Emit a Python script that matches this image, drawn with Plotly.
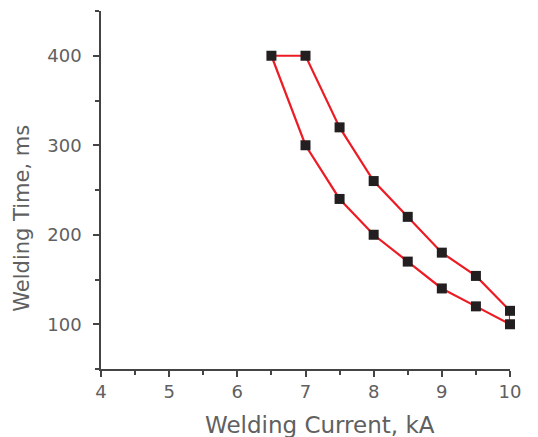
import plotly.graph_objects as go

lower_current = [6.5, 7.0, 7.5, 8.0, 8.5, 9.0, 9.5, 10.0]
lower_time = [400, 300, 240, 200, 170, 140, 120, 100]
upper_current = [7.0, 7.5, 8.0, 8.5, 9.0, 9.5, 10.0]
upper_time = [400, 320, 260, 220, 180, 154, 115]

x_title = "Welding Current, kA"
y_title = "Welding Time, ms"

# closed loop: lower curve, then upper curve back, then close
loop_x = lower_current + upper_current[::-1] + [lower_current[0]]
loop_y = lower_time + upper_time[::-1] + [lower_time[0]]

fig = go.Figure()
fig.add_trace(go.Scatter(
    x=loop_x, y=loop_y, mode="lines",
    line=dict(color="#ec1c24", width=2.2),
    hoverinfo="skip", showlegend=False, cliponaxis=False,
))
fig.add_trace(go.Scatter(
    x=lower_current + upper_current, y=lower_time + upper_time, mode="markers",
    marker=dict(symbol="square", size=10, color="#231f20"),
    showlegend=False, cliponaxis=False,
))

font_family = "'DejaVu Sans', sans-serif"
grey = "#606060"
axis_common = dict(
    showline=True, linecolor="#444444", linewidth=1.5,
    ticks="outside", ticklen=6, tickwidth=1.5, tickcolor="#444444",
    showgrid=False, zeroline=False, automargin=False,
    tickfont=dict(family=font_family, size=18, color=grey),
)
fig.update_xaxes(
    range=[4, 10], tickmode="array", tickvals=[4, 5, 6, 7, 8, 9, 10],
    minor=dict(tickvals=[4.5, 5.5, 6.5, 7.5, 8.5, 9.5], ticks="outside", ticklen=4,
               tickcolor="#444444", tickwidth=1.5),
    **axis_common,
)
fig.update_yaxes(
    range=[50, 450], tickmode="array", tickvals=[100, 200, 300, 400],
    minor=dict(tickvals=[50, 150, 250, 350, 450], ticks="outside", ticklen=4,
               tickcolor="#444444", tickwidth=1.5),
    ticklabelstandoff=8,
    **axis_common,
)
fig.add_annotation(
    text=x_title, xref="paper", yref="paper", x=0.535, y=-0.156,
    xanchor="center", yanchor="middle", showarrow=False,
    font=dict(family=font_family, size=23, color=grey),
)
fig.add_annotation(
    text=y_title, xref="paper", yref="paper", x=-0.193, y=0.42,
    xanchor="center", yanchor="middle", showarrow=False, textangle=-90,
    font=dict(family=font_family, size=21, color=grey),
)
fig.update_layout(
    width=530, height=429,
    margin=dict(l=93, r=28, t=3, b=68),
    paper_bgcolor="white", plot_bgcolor="white",
)
fig.write_html("out.html")
